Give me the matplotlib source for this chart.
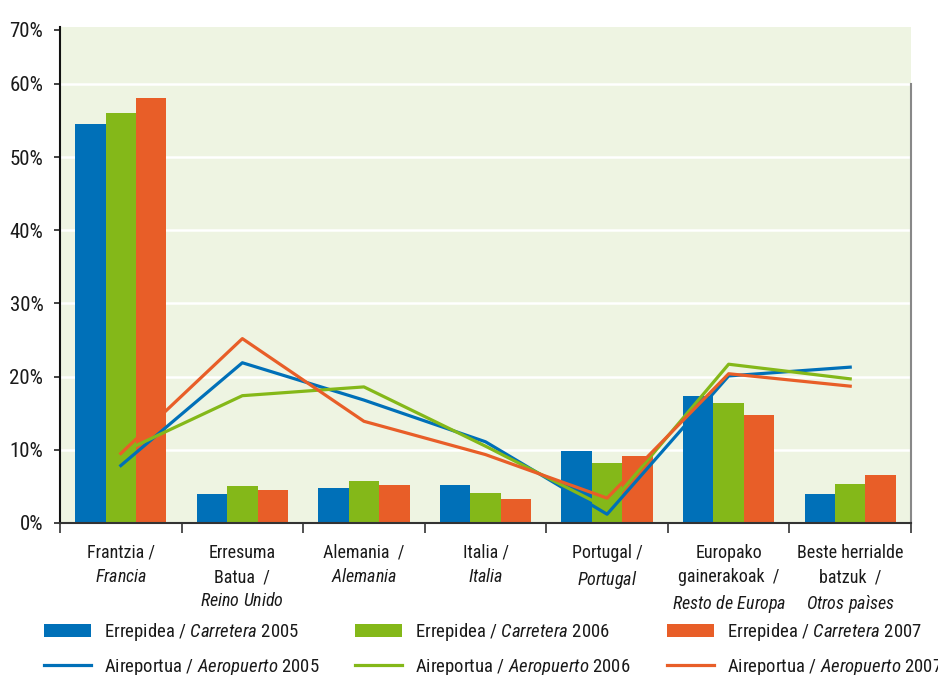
import matplotlib
matplotlib.use("Agg")
import matplotlib.pyplot as plt
import numpy as np
from matplotlib.patches import Patch
from matplotlib.lines import Line2D
from matplotlib.transforms import ScaledTranslation

FONT = "Roboto Condensed"
plt.rcParams['font.family'] = [FONT, 'DejaVu Sans']
plt.rcParams['mathtext.fontset'] = 'custom'
plt.rcParams['mathtext.rm'] = FONT
plt.rcParams['mathtext.it'] = FONT + ':italic'

categories = [
    "Frantzia /\n$\\mathit{Francia}$",
    "Erresuma\nBatua  /\n$\\mathit{Reino\\ Unido}$",
    "Alemania  /\n$\\mathit{Alemania}$",
    "Italia /\n$\\mathit{Italia}$",
    "Portugal /\n$\\mathit{Portugal}$",
    "Europako\ngainerakoak  /\n$\\mathit{Resto\\ de\\ Europa}$",
    "Beste herrialde\nbatzuk  /\n$\\mathit{Otros\\ pa\u00ecses}$",
]
road_2005 = [54.5, 4.0, 4.8, 5.25, 9.8, 17.3, 3.9]
road_2006 = [56.1, 5.1, 5.8, 4.15, 8.25, 16.4, 5.3]
road_2007 = [58.1, 4.55, 5.25, 3.3, 9.2, 14.7, 6.5]
air_2005 = [7.85, 21.9, 16.8, 11.1, 1.2, 20.1, 21.3]
air_2006 = [9.6, 17.4, 18.6, 10.5, 2.05, 21.7, 19.7]
air_2007 = [9.5, 25.2, 13.9, 9.35, 3.4, 20.4, 18.7]
ytick_labels = ["0%", "10%", "20%", "30%", "40%", "50%", "60%", "70%"]

blue = "#0070B8"
green = "#84B819"
orange = "#E85E28"
bg = "#EEF4E2"
txtc = "#1a1a1a"

fig = plt.figure(figsize=(9.38, 6.75), dpi=100)
ax = fig.add_axes([60/938, 1-523/675, (911-60)/938, (523-27)/675])
ax.set_facecolor(bg)

x = np.arange(len(categories))
w = 0.25
ax.bar(x - w, road_2005, w, color=blue, zorder=2)
ax.bar(x, road_2006, w, color=green, zorder=2)
ax.bar(x + w, road_2007, w, color=orange, zorder=2)
ax.plot(x, air_2005, color=blue, lw=2.3, zorder=3)
ax.plot(x, air_2006, color=green, lw=2.3, zorder=3)
ax.plot(x, air_2007, color=orange, lw=2.3, zorder=3)

top = 60 + (84-27)/73.2*10
ax.set_ylim(0, top)
ax.set_xlim(-0.5, len(categories) - 0.5)
yt = [0, 10, 20, 30, 40, 50, 60, top - 0.4]
ax.set_yticks(yt)
ax.set_yticklabels(ytick_labels, fontsize=15, color=txtc)
for i, lab in enumerate(ax.get_yticklabels()):
    dy = 8 if i == len(yt) - 1 else 2
    lab.set_transform(lab.get_transform() + ScaledTranslation(0, dy/100, fig.dpi_scale_trans))
for v in [10, 20, 30, 40, 50, 60]:
    ax.axhline(v, color="white", lw=1.8, zorder=1)

ax.set_xticks(np.arange(len(categories) + 1) - 0.5)
ax.set_xticklabels([])
ax.set_xticks(x, minor=True)
ax.set_xticklabels(categories, minor=True, fontsize=13, color=txtc,
                   linespacing=1.45, multialignment="center", va="top")
ax.tick_params(axis='x', which='major', length=7, width=1.2, color="#333333", direction='out')
ax.tick_params(axis='x', which='minor', length=0, pad=15)
ax.tick_params(axis='y', length=4, width=1.2, color="#222222", pad=8)

ax.spines['top'].set_visible(False)
ax.spines['right'].set_bounds(0, 60)
ax.spines['right'].set_color("#888888")
ax.spines['right'].set_linewidth(1.5)
ax.spines['left'].set_color("#111111")
ax.spines['left'].set_linewidth(1.5)
ax.spines['bottom'].set_color("#333333")
ax.spines['bottom'].set_linewidth(1.5)

cols = [(blue, "2005", 44), (green, "2006", 355), (orange, "2007", 667)]
for c, yr, px in cols:
    handles = [Patch(facecolor=c, edgecolor='none'), Line2D([0], [0], color=c, lw=2.3)]
    labels = [f"Errepidea / $\\mathit{{Carretera}}$ {yr}",
              f"Aireportua / $\\mathit{{Aeropuerto}}$ {yr}"]
    fig.legend(handles, labels, loc='upper left',
               bbox_to_anchor=(px/938, 1-621/675), frameon=False,
               fontsize=13.5, handlelength=2.5, handleheight=0.75, handletextpad=0.7,
               labelspacing=0.72, borderaxespad=0, borderpad=0, labelcolor=txtc)

fig.savefig("out.png", dpi=100)
